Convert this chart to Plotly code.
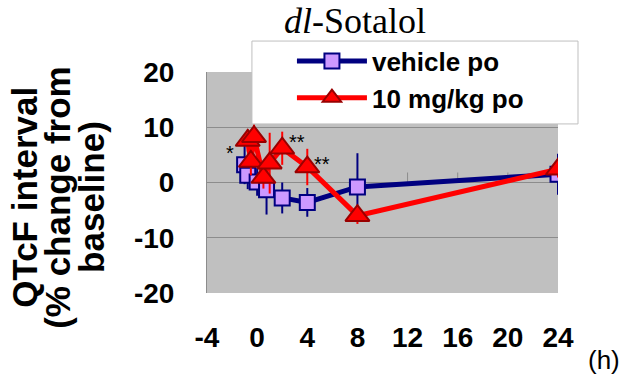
import plotly.graph_objects as go

# ---- data ----
veh_t = [-1, -0.75, 0, 0.75, 2, 4, 8, 24]
veh_y = [3.2, 1.3, 0.1, -1.3, -2.8, -3.6, -0.8, 1.5]
veh_err = [3.5, 2.5, 2.5, 4.5, 2.8, 2.6, 6.1, 3.7]

sot_t = [-0.75, -0.5, -0.25, 0.5, 1, 2, 4, 8, 24]
sot_y = [7.6, 3.8, 8.3, 0.9, 3.5, 6.2, 2.8, -6.0, 2.4]
sot_err = [2.0, 2.5, 2.2, 2.0, 5.5, 3.0, 3.3, 1.5, 1.5]

sig_x = [-2.2, 3.2, 5.2]
sig_y = [5.4, 7.4, 3.4]
sig_text = ["*", "**", "**"]

x_ticks = [-4, 0, 4, 8, 12, 16, 20, 24]
y_ticks = [-20, -10, 0, 10, 20]

series_names = ["vehicle po", "10 mg/kg po"]
title_text = "<i>dl</i>-Sotalol"
ytitle_lines = ["QTcF interval", "(% change from", "baseline)"]
unit_text = "(h)"

NAVY = "#000080"
RED = "#ff0000"
GRID = "#8c8c8c"
BOLD = "Liberation Sans, Arial, sans-serif"

fig = go.Figure()
fig.add_trace(go.Scatter(
    x=veh_t, y=veh_y, name=series_names[0], mode="lines+markers",
    line=dict(color=NAVY, width=5),
    marker=dict(symbol="square", size=15, color="#cc99ff", line=dict(color=NAVY, width=2)),
    error_y=dict(type="data", array=veh_err, visible=True, color=NAVY, thickness=2, width=0),
))
fig.add_trace(go.Scatter(
    x=sot_t, y=sot_y, name=series_names[1], mode="lines+markers",
    line=dict(color=RED, width=5),
    marker=dict(symbol="triangle-up", size=21, color=RED, line=dict(color="#990000", width=2)),
    error_y=dict(type="data", array=sot_err, visible=True, color=RED, thickness=2, width=0),
))

shapes = []
# small tick marks on the category axis crossing at y=0
for t in x_ticks[1:]:
    shapes.append(dict(type="line", xref="x", yref="y", x0=t, x1=t,
                       ysizemode="pixel", yanchor=0, y0=0, y1=10,
                       line=dict(color=GRID, width=1), layer="below"))
# legend box
shapes.append(dict(type="rect", xref="paper", yref="paper",
                   x0=0.128, x1=1.057, y0=0.765, y1=1.140,
                   fillcolor="white", line=dict(color="#bfbfbf", width=1), layer="above"))

annotations = []
for xs, ys, tx in zip(sig_x, sig_y, sig_text):
    annotations.append(dict(x=xs, y=ys, xref="x", yref="y", text=tx, showarrow=False,
                            font=dict(family=BOLD, size=20, color="black")))
annotations.append(dict(x=0.4217, y=1.231, xref="paper", yref="paper", text=title_text,
                        showarrow=False, xanchor="center", yanchor="middle",
                        font=dict(family="Liberation Serif, Times New Roman, serif", size=36, color="black")))
for xp, line in zip([-0.522, -0.428, -0.331], ytitle_lines):
    annotations.append(dict(x=xp, y=0.434, xref="paper", yref="paper", text="<b>%s</b>" % line,
                            textangle=-90, showarrow=False, xanchor="center", yanchor="middle",
                            font=dict(family=BOLD, size=35, color="black")))
annotations.append(dict(x=1.131, y=-0.303, xref="paper", yref="paper", text=unit_text,
                        showarrow=False, xanchor="center", yanchor="middle",
                        font=dict(family=BOLD, size=26, color="black")))

fig.update_layout(
    width=630, height=381,
    margin=dict(l=207, r=72, t=72, b=88),
    paper_bgcolor="white", plot_bgcolor="#c0c0c0",
    showlegend=True,
    legend=dict(x=0.242, y=1.156, xanchor="left", yanchor="top",
                bgcolor="rgba(0,0,0,0)", borderwidth=0,
                font=dict(family=BOLD, size=26, color="black", weight="bold"),
                itemwidth=70, tracegroupgap=0),
    shapes=shapes, annotations=annotations,
    xaxis=dict(range=[-4, 24], tickvals=x_ticks, ticktext=[str(v) for v in x_ticks],
               showgrid=False, zeroline=False, showline=False, ticks="",
               ticklabelstandoff=25,
               tickfont=dict(family=BOLD, size=28, color="black", weight="bold")),
    yaxis=dict(range=[-20, 20], tickvals=y_ticks, ticktext=[str(v) for v in y_ticks],
               showgrid=True, gridcolor=GRID, gridwidth=1,
               zeroline=True, zerolinecolor=GRID, zerolinewidth=1,
               showline=True, linecolor=GRID, linewidth=1, ticks="",
               ticklabelstandoff=26,
               tickfont=dict(family=BOLD, size=28, color="black", weight="bold")),
)

fig.write_html("out.html", config={"displayModeBar": False},
               post_script="document.body.style.margin='0';document.body.style.padding='0';")
